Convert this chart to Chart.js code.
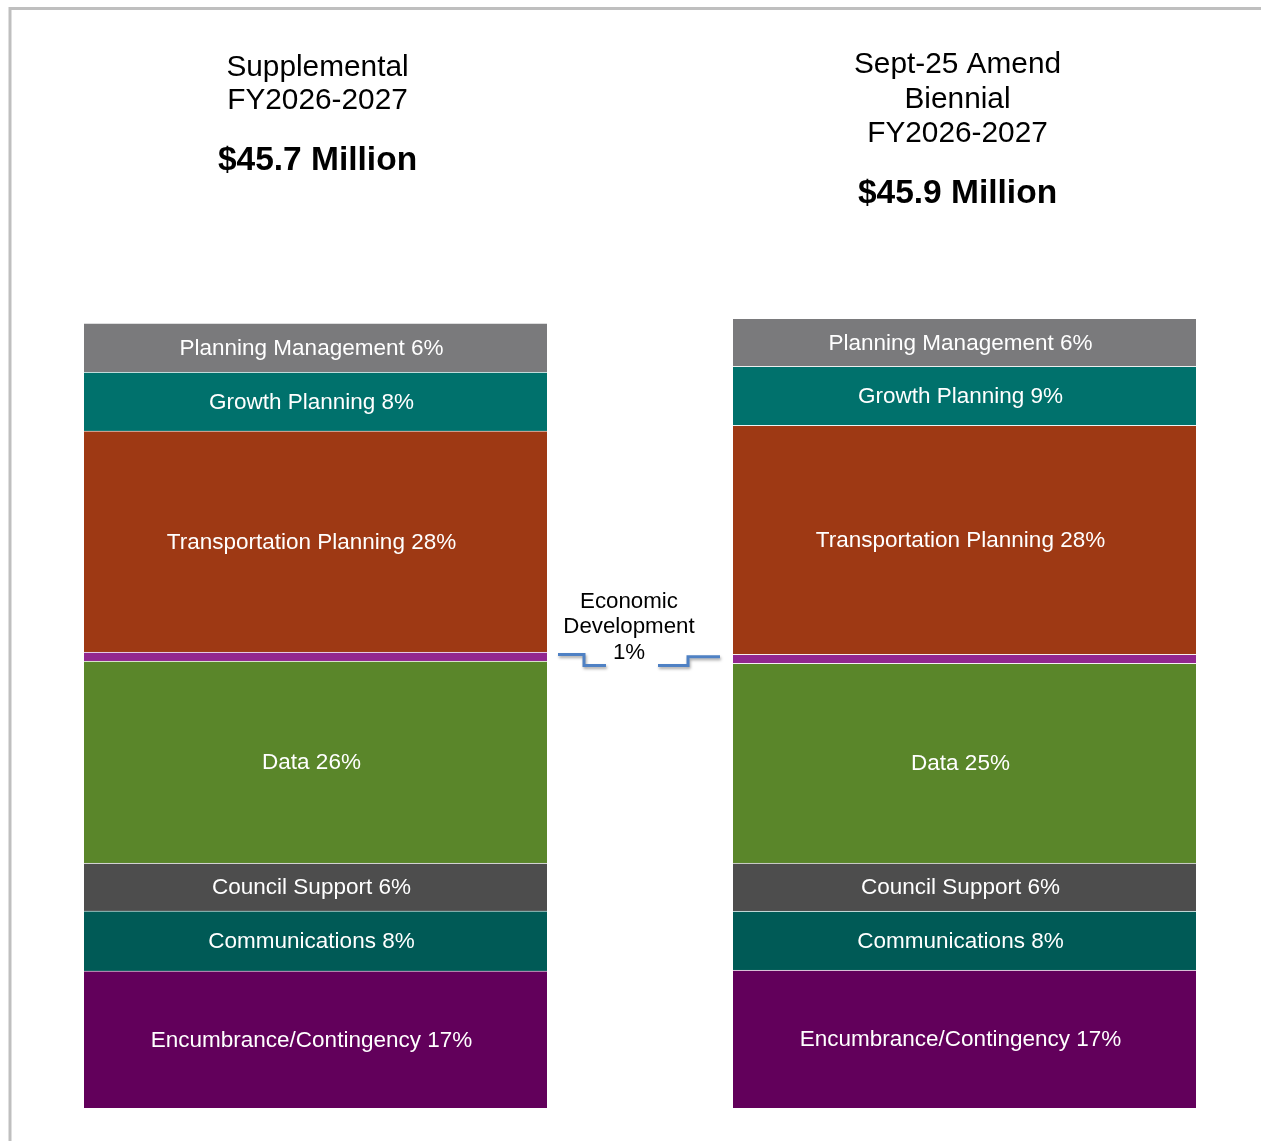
<!DOCTYPE html>
<html>
<head>
<meta charset="utf-8">
<script src="https://cdn.jsdelivr.net/npm/chart.js@4/dist/chart.umd.min.js"></script>
<style>
  html, body { margin: 0; padding: 0; background: #ffffff; overflow: hidden; }
  #wrap { position: relative; width: 1261px; height: 1141px; }
  canvas { display: block; }
</style>
</head>
<body>
<div id="wrap"><canvas id="c" width="1261" height="1141"></canvas></div>
<script>
// Categories (the two budgets)
const categories = ['Supplemental FY2026-2027', 'Sept-25 Amend Biennial FY2026-2027'];

// Segment names, bottom to top (stack order)
const segmentNames = ['Encumbrance/Contingency', 'Communications', 'Council Support', 'Data',
  'Economic Development', 'Transportation Planning', 'Growth Planning', 'Planning Management'];

// Amounts in $ millions, bottom to top
const supplementalValues = [7.98, 3.49, 2.79, 11.76, 0.52, 12.87, 3.43, 2.85];
const amendValues        = [8.03, 3.43, 2.79, 11.64, 0.52, 13.33, 3.43, 2.79];

// Percent labels shown on each segment, bottom to top
const supplementalPct = ['17%', '8%', '6%', '26%', '1%', '28%', '8%', '6%'];
const amendPct        = ['17%', '8%', '6%', '25%', '1%', '28%', '9%', '6%'];

const segmentColors = ['#62005b', '#005a56', '#4d4d4d', '#5a862a', '#92278f', '#9e3914', '#00716c', '#7a7a7c'];

// Titles
const titleLeft = ['Supplemental', 'FY2026-2027'];
const totalLeft = '$45.7 Million';
const titleRight = ['Sept-25 Amend', 'Biennial', 'FY2026-2027'];
const totalRight = '$45.9 Million';
const edIndex = 4;

const FONT = '"Liberation Sans", Arial, Helvetica, sans-serif';

const datasets = segmentNames.map((name, i) => ({
  label: name,
  data: [supplementalValues[i], amendValues[i]],
  backgroundColor: segmentColors[i],
  borderColor: 'rgba(255,255,255,0.35)',
  borderWidth: { top: 1, bottom: 0, left: 0, right: 0 },
  borderSkipped: false,
  barThickness: 463,
  clip: false,
  pctLabels: [supplementalPct[i], amendPct[i]]
}));

const decorPlugin = {
  id: 'decor',
  beforeDraw(chart) {
    const ctx = chart.ctx;
    ctx.save();
    ctx.fillStyle = '#ffffff';
    ctx.fillRect(0, 0, chart.width, chart.height);
    // frame
    ctx.strokeStyle = '#bfbfbf';
    ctx.lineWidth = 3;
    ctx.beginPath();
    ctx.moveTo(10, chart.height);
    ctx.lineTo(10, 8.5);
    ctx.lineTo(chart.width, 8.5);
    ctx.stroke();
    ctx.restore();
  },
  afterDatasetsDraw(chart) {
    const ctx = chart.ctx;
    ctx.save();
    // segment labels
    ctx.fillStyle = '#ffffff';
    ctx.font = '22.5px ' + FONT;
    ctx.textAlign = 'center';
    ctx.textBaseline = 'middle';
    chart.data.datasets.forEach((ds, di) => {
      if (di === edIndex) return;
      const meta = chart.getDatasetMeta(di);
      meta.data.forEach((el, j) => {
        const cy = (el.y + el.base) / 2;
        ctx.fillText(ds.label + ' ' + ds.pctLabels[j], el.x - 4, cy + 1);
      });
    });

    // titles
    ctx.fillStyle = '#000000';
    ctx.font = '29.8px ' + FONT;
    const xs = chart.scales.x;
    const lx = xs.getPixelForValue(0) + 2;
    const rx = xs.getPixelForValue(1) - 7;
    titleLeft.forEach((t, i) => ctx.fillText(t, lx, 67.5 + i * 33));
    titleRight.forEach((t, i) => ctx.fillText(t, rx, 65 + i * 34.5));
    ctx.font = 'bold 33.5px ' + FONT;
    ctx.fillText(totalLeft, lx, 161);
    ctx.fillText(totalRight, rx, 194);

    // Economic Development annotation
    const edMeta = chart.getDatasetMeta(edIndex);
    const eL = edMeta.data[0], eR = edMeta.data[1];
    const mid = (eL.x + eR.x) / 2 - 11;
    ctx.font = '22.3px ' + FONT;
    ctx.fillText('Economic', mid, 601.5);
    ctx.fillText('Development', mid, 626.5);
    ctx.fillText(supplementalPct[edIndex], mid, 652.5);

    const lEdge = eL.x + eL.width / 2;
    const rEdge = eR.x - eR.width / 2;
    const lY = (eL.y + eL.base) / 2 - 2;
    const rY = (eR.y + eR.base) / 2 - 2;
    const lowY = 665.5;
    ctx.strokeStyle = '#4f81c4';
    ctx.lineWidth = 3;
    ctx.shadowColor = 'rgba(0,0,0,0.35)';
    ctx.shadowBlur = 3;
    ctx.shadowOffsetY = 2;
    ctx.shadowOffsetX = 1;
    ctx.beginPath();
    ctx.moveTo(lEdge + 11, lY);
    ctx.lineTo(lEdge + 37, lY);
    ctx.lineTo(lEdge + 37, lowY);
    ctx.lineTo(lEdge + 59, lowY);
    ctx.stroke();
    ctx.beginPath();
    ctx.moveTo(rEdge - 75, lowY);
    ctx.lineTo(rEdge - 45, lowY);
    ctx.lineTo(rEdge - 45, rY);
    ctx.lineTo(rEdge - 13, rY);
    ctx.stroke();
    ctx.restore();
  }
};

new Chart(document.getElementById('c'), {
  type: 'bar',
  data: { labels: categories, datasets },
  options: {
    responsive: false,
    animation: false,
    devicePixelRatio: 1,
    layout: { padding: { left: 315.5, right: 296.5, top: 249, bottom: 33 } },
    plugins: { legend: { display: false }, tooltip: { enabled: false } },
    scales: {
      x: { stacked: true, display: false, offset: false, grid: { display: false } },
      y: { stacked: true, display: false, min: 0, max: 50 }
    }
  },
  plugins: [decorPlugin]
});
</script>
</body>
</html>
